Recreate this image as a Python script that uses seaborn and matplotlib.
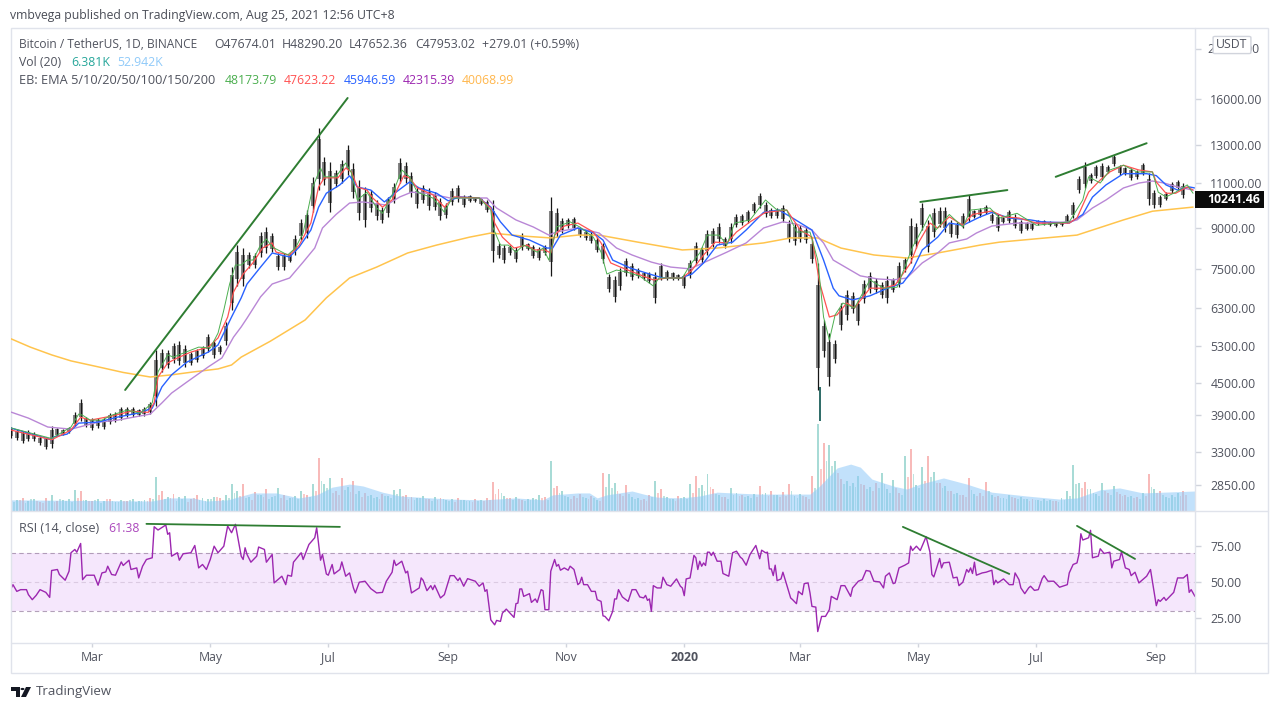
import numpy as np
import pandas as pd
import matplotlib
matplotlib.use("Agg")
import matplotlib.pyplot as plt
from matplotlib.lines import Line2D
from matplotlib.patches import Rectangle, FancyBboxPatch, Polygon, Circle
import seaborn as sns

# Daily bars, one kept every 3 days from the start date
start_date = "2019-01-18"
bar_step = 3
bar_high = [3690, 3660, 3630, 3645, 3610, 3550, 3535, 3710, 3680, 3660, 3695, 3945, 4190, 3860, 3845, 3845, 3845, 3930, 3945, 4040,
            4040, 4040, 4000, 4040, 4130, 5210, 5230, 5210, 5390, 5420, 5330, 5165, 5230, 5305, 5590, 5450, 5330, 5900, 7550, 8330,
            8220, 8070, 8040, 8830, 9030, 8790, 8040, 8040, 8040, 8710, 9360, 9740, 11300, 14070, 12360, 12050, 11650, 12180, 13050, 12020,
            11140, 10800, 10650, 10190, 9870, 10330, 10990, 12280, 12050, 11550, 10800, 10900, 10750, 10550, 10280, 10050, 10750, 10900, 10430, 10430,
            10330, 10280, 10190, 10190, 8410, 8330, 8330, 8260, 8790, 8410, 8330, 8260, 8330, 10330, 9830, 9400, 9400, 9450, 9030, 8910,
            8830, 8630, 8410, 7320, 7260, 7520, 7860, 7690, 7520, 7390, 7390, 7390, 7690, 7450, 7390, 7320, 7320, 7790, 8440, 8260,
            8910, 8990, 9190, 8630, 9190, 9550, 9550, 9740, 10100, 10500, 10100, 9830, 9830, 9960, 9320, 9190, 9100, 9030, 8520, 7690,
            5960, 5620, 5450, 6430, 6810, 6750, 6520, 7130, 7390, 7190, 7070, 7250, 7190, 7720, 7900, 9400, 9190, 10050, 9320, 9830,
            9870, 9870, 9320, 9240, 9600, 10430, 9740, 9830, 9960, 9600, 9550, 9450, 9740, 9550, 9320, 9240, 9190, 9320, 9320, 9280,
            9240, 9240, 9550, 10100, 11350, 12050, 11500, 11900, 12020, 11900, 12460, 11900, 11800, 11750, 11650, 12020, 11500, 10650, 10430, 10550,
            11040, 11140, 10990]
bar_low = [3520, 3490, 3445, 3475, 3475, 3410, 3350, 3365, 3550, 3565, 3595, 3710, 3795, 3695, 3645, 3680, 3660, 3750, 3775, 3810,
           3860, 3860, 3880, 3880, 3910, 4060, 4730, 4815, 4920, 4875, 4835, 4875, 4940, 5030, 5165, 5030, 5120, 5330, 6230, 6940,
           6940, 7520, 7520, 7900, 8040, 8070, 7450, 7450, 7720, 7970, 8520, 8600, 9640, 10650, 10900, 9650, 10800, 10990, 11410, 10300,
           9320, 9030, 9640, 9320, 9190, 9450, 10050, 10990, 10990, 10330, 9830, 10050, 9740, 9740, 9320, 9400, 9960, 10100, 9870, 10100,
           10100, 9960, 9640, 7720, 7860, 7690, 7970, 7720, 8150, 8150, 7860, 7790, 7970, 7250, 8630, 8790, 8990, 8910, 8630, 8520,
           8410, 8070, 7690, 6750, 6460, 6810, 7250, 7130, 7190, 7130, 7030, 6430, 7130, 7130, 7130, 7130, 6870, 7190, 7620, 7690,
           7970, 8260, 8410, 8220, 8410, 9030, 9100, 9190, 9600, 9830, 9450, 9400, 9400, 9240, 8440, 8330, 8440, 8410, 7690, 4360,
           5050, 4430, 4920, 5700, 5960, 6150, 5830, 6430, 6730, 6730, 6580, 6430, 6750, 6900, 7390, 7690, 8220, 8910, 8070, 8630,
           9030, 8830, 8630, 8600, 8990, 9240, 9400, 9450, 9550, 9190, 8870, 9190, 9190, 8990, 8790, 8910, 8910, 9100, 9100, 9070,
           9030, 9070, 9190, 9400, 10500, 10750, 10990, 11250, 11140, 11500, 11850, 11410, 11410, 11140, 11190, 11410, 9960, 9830, 9870, 10190,
           10500, 10650, 10280]
# the long candle at the March 2020 low
crash_day = [418]
crash_top = [4420]
crash_bottom = [3800]

# EMA lines, read as (day since start, price)
ema5_days = [0, 21, 31, 35, 37, 41, 47, 52, 60, 67, 73, 76, 81, 84, 89, 97, 103, 107, 110, 113, 116, 119, 122, 125, 129, 132, 135, 143, 147, 151, 156, 160, 162, 168, 173, 176, 179, 184, 189, 192, 197, 202, 206, 210, 218, 224, 228, 242, 248, 249, 253, 257, 261, 265, 272, 275, 278, 282, 289, 294, 301, 305, 308, 313, 318, 325, 332, 335, 347, 351, 356, 360, 366, 370, 374, 382, 390, 396, 401, 406, 413, 417, 420, 423, 426, 430, 436, 444, 451, 458, 466, 470, 475, 478, 485, 492, 496, 506, 511, 520, 530, 547, 554, 557, 563, 568, 575, 582, 590, 593, 597, 602, 608, 611]
ema5_vals = [3680, 3510, 3695, 3915, 3895, 3810, 3810, 3895, 3985, 3930, 4115, 4730, 5100, 5050, 5140, 5280, 5260, 5620, 6230, 7000, 7620, 7620, 7790, 7790, 8330, 8560, 8260, 7970, 8220, 8790, 10800, 11750, 11300, 11300, 12020, 11500, 10190, 10550, 9830, 9600, 10420, 11650, 11300, 10550, 10280, 9650, 10280, 10280, 9740, 9030, 8330, 8330, 8070, 8330, 8070, 8220, 7790, 9030, 9240, 9030, 8630, 8070, 7320, 7450, 7390, 7250, 6940, 7190, 7190, 7620, 8040, 8710, 8710, 8330, 9190, 9320, 10190, 9740, 9740, 8830, 8830, 7790, 6040, 5450, 6100, 6430, 6290, 7130, 6870, 6900, 8260, 8790, 9550, 8910, 9550, 9030, 9740, 9830, 9400, 9600, 9100, 9240, 10190, 11300, 10990, 11650, 11900, 11550, 11550, 10550, 10330, 10550, 10900, 10500]
ema10_days = [0, 21, 31, 36, 41, 52, 62, 71, 74, 76, 81, 86, 93, 102, 107, 112, 115, 120, 125, 130, 135, 137, 144, 149, 155, 159, 162, 169, 173, 176, 179, 184, 187, 192, 197, 203, 206, 210, 218, 224, 229, 242, 248, 250, 254, 260, 267, 270, 276, 279, 281, 286, 293, 301, 305, 310, 315, 324, 332, 339, 347, 352, 358, 364, 370, 375, 382, 390, 401, 408, 414, 418, 423, 427, 432, 436, 444, 451, 457, 465, 469, 475, 479, 485, 492, 497, 507, 513, 521, 530, 547, 551, 557, 563, 568, 575, 583, 590, 592, 597, 602, 608, 611]
ema10_vals = [3645, 3490, 3645, 3860, 3810, 3880, 3965, 3945, 4115, 4620, 4920, 5030, 5165, 5280, 5500, 6040, 6750, 7320, 7690, 8220, 8410, 8070, 7970, 8330, 9190, 10800, 11250, 11250, 11750, 11550, 10800, 10650, 10280, 9870, 10190, 11350, 11250, 10750, 10430, 9870, 10330, 10280, 9830, 9190, 8630, 8220, 8330, 8150, 8150, 8040, 8710, 9070, 9190, 8830, 8410, 7690, 7550, 7320, 7130, 7190, 7190, 7450, 7970, 8440, 8410, 8830, 9240, 9640, 9740, 8910, 8630, 7030, 6040, 6100, 6430, 6290, 6870, 6870, 6970, 7690, 8410, 9190, 8990, 9450, 9100, 9550, 9700, 9450, 9400, 9190, 9190, 9400, 10550, 11140, 11550, 11900, 11650, 11550, 11040, 10500, 10500, 10800, 10650]
ema20_days = [0, 21, 22, 29, 35, 45, 55, 66, 73, 78, 83, 91, 102, 107, 114, 119, 122, 129, 135, 144, 149, 155, 159, 163, 170, 175, 179, 186, 193, 199, 206, 211, 220, 226, 232, 242, 248, 253, 259, 268, 277, 280, 284, 293, 301, 306, 311, 320, 330, 337, 346, 352, 358, 365, 373, 380, 389, 397, 404, 414, 420, 425, 428, 435, 444, 453, 461, 466, 471, 479, 485, 492, 501, 507, 516, 527, 533, 547, 554, 559, 566, 575, 587, 592, 597, 603, 609, 612]
ema20_vals = [3677, 3490, 3535, 3580, 3760, 3777, 3862, 3933, 4020, 4420, 4665, 4940, 5165, 5330, 6040, 6580, 7000, 7550, 8040, 7900, 8260, 8910, 9870, 10500, 10900, 11350, 10800, 10650, 10100, 10550, 11040, 10750, 10500, 10150, 10330, 10280, 9870, 9240, 8710, 8520, 8220, 8220, 8710, 8990, 8800, 8520, 7790, 7520, 7320, 7190, 7190, 7320, 7690, 8330, 8440, 8910, 9640, 9740, 9400, 8910, 7790, 6870, 6640, 6520, 6640, 6870, 7030, 7450, 8150, 8630, 9190, 9100, 9450, 9640, 9400, 9320, 9240, 9190, 9550, 10320, 10900, 11460, 11460, 11360, 10900, 10650, 10800, 10750]
ema50_days = [0, 9, 19, 31, 45, 55, 72, 78, 83, 91, 102, 109, 115, 119, 122, 129, 135, 144, 151, 157, 161, 168, 175, 182, 194, 201, 207, 215, 227, 246, 251, 261, 270, 278, 282, 293, 304, 313, 321, 331, 341, 351, 361, 370, 380, 389, 399, 406, 414, 420, 425, 432, 439, 448, 456, 463, 471, 479, 485, 494, 499, 507, 520, 530, 547, 551, 559, 566, 575, 583, 590, 596, 603, 611]
ema50_vals = [3950, 3845, 3695, 3660, 3775, 3810, 3915, 4115, 4300, 4520, 4835, 5030, 5520, 5780, 6010, 6610, 7000, 7190, 7720, 8220, 8990, 9550, 10050, 10100, 9960, 10330, 10550, 10500, 10280, 10280, 9830, 9320, 9030, 8710, 8830, 8990, 8790, 8220, 7970, 7720, 7550, 7490, 7790, 8070, 8410, 8990, 9240, 9150, 8910, 8410, 7790, 7520, 7260, 7160, 7130, 7190, 7690, 8040, 8410, 8560, 8790, 9070, 9190, 9190, 9240, 9320, 9830, 10190, 10750, 10990, 11090, 10990, 10800, 10650]
ema200_days = [0, 10, 21, 31, 45, 58, 72, 83, 95, 107, 114, 119, 134, 152, 163, 175, 189, 205, 220, 237, 248, 265, 279, 293, 304, 324, 347, 365, 389, 403, 417, 429, 446, 463, 479, 501, 511, 551, 575, 590, 611]
ema200_vals = [5480, 5280, 5100, 4965, 4835, 4715, 4620, 4665, 4730, 4790, 4875, 5050, 5420, 5960, 6580, 7190, 7550, 8040, 8330, 8630, 8790, 8670, 8600, 8710, 8710, 8440, 8150, 8220, 8410, 8600, 8600, 8220, 7970, 7860, 8040, 8330, 8440, 8710, 9320, 9690, 9870]

# Volume in K, same step as the bars, u = up day, d = down day
vol_values = [31, 29, 34, 26, 31, 23, 34, 42, 26, 29, 31, 55, 52, 29, 26, 31, 26, 31, 23, 29,
              26, 31, 26, 29, 34, 88, 52, 36, 44, 36, 39, 31, 42, 34, 31, 36, 34, 42, 70, 52,
              70, 36, 49, 42, 57, 36, 60, 42, 34, 39, 52, 42, 70, 138, 70, 86, 52, 86, 62, 78,
              52, 47, 42, 36, 44, 39, 55, 57, 42, 36, 34, 39, 31, 36, 34, 29, 31, 34, 29, 26,
              31, 29, 34, 75, 57, 39, 34, 36, 29, 31, 34, 42, 36, 130, 65, 52, 36, 39, 44, 34,
              39, 29, 99, 96, 73, 44, 68, 36, 34, 31, 42, 78, 57, 36, 31, 39, 36, 70, 91, 68,
              96, 57, 42, 36, 60, 47, 42, 39, 44, 65, 47, 52, 42, 49, 70, 39, 44, 36, 91, 226,
              177, 172, 130, 83, 78, 73, 91, 68, 62, 73, 99, 57, 81, 47, 143, 161, 68, 114, 143, 101,
              73, 65, 52, 47, 42, 86, 44, 47, 75, 42, 39, 34, 42, 34, 36, 31, 31, 29, 31, 29,
              26, 34, 52, 120, 73, 75, 57, 44, 73, 47, 65, 44, 42, 39, 36, 47, 96, 57, 52, 36,
              42, 47, 52]
vol_dirs = ("duduuddudu" "uududuuduu" "duuudududu" "udduuuduuu" "dududuuduu" "ududuuddud" "uduuduuudd"
            "uududuuduu" "dudddududu" "uududuuddu" "duduudduud" "duduuduudu" "ududuuduud" "ududduuddu"
            "duuduuudud" "uuududuudu" "dududduddu" "duuduuduuu" "duuuuduuud" "uddudududu" "uud")
# the smaller bars lying between those above
vol_between = [24, 28, 22, 30, 26, 20, 27, 24, 31, 26, 23, 34, 29, 25, 28, 22, 30, 27, 24, 26, 29, 23, 27, 25, 30,
               42, 30, 34, 26, 31, 24, 33, 28, 26, 31, 37, 29, 35, 46, 38, 33, 28, 42, 36, 31, 40, 34, 28, 33, 30,
               44, 36, 52, 78, 60, 48, 42, 54, 50, 44, 36, 40, 33, 30, 38, 34, 44, 40, 31, 28, 33, 30, 26, 29, 31,
               26, 24, 29, 27, 23, 26, 25, 28, 44, 46, 33, 29, 31, 26, 28, 30, 33, 28, 60, 48, 39, 31, 35, 36, 30,
               33, 27, 62, 60, 52, 38, 44, 31, 29, 27, 36, 46, 40, 31, 27, 34, 31, 48, 60, 52, 62, 44, 36, 31, 42,
               38, 36, 33, 36, 44, 40, 42, 36, 40, 52, 33, 38, 31, 60, 110, 130, 118, 100, 70, 66, 62, 70, 56, 52, 60,
               70, 48, 60, 42, 88, 96, 60, 78, 88, 72, 60, 52, 44, 42, 36, 55, 39, 40, 52, 36, 33, 31, 36, 30, 31,
               27, 28, 26, 27, 26, 24, 29, 40, 70, 60, 58, 46, 39, 52, 42, 50, 38, 36, 34, 32, 40, 62, 48, 42, 33,
               36, 40, 42]
vol_ma_days = [0, 73, 81, 94, 101, 112, 125, 137, 149, 158, 166, 175, 182, 192, 201, 211, 227, 244, 261, 275, 280, 293, 299, 303, 308, 321, 327, 334, 346, 356, 365, 373, 387, 413, 418, 427, 434, 439, 445, 456, 463, 470, 482, 494, 507, 525, 542, 551, 563, 573, 585, 612]
vol_ma_vals = [29, 26, 34, 34, 26, 29, 47, 47, 34, 42, 62, 70, 65, 49, 39, 36, 31, 29, 34, 29, 42, 47, 47, 34, 42, 52, 44, 36, 34, 39, 49, 47, 44, 44, 65, 112, 122, 114, 83, 65, 57, 70, 86, 70, 49, 39, 31, 34, 55, 60, 47, 52]

# RSI (14, close)
rsi_days = [0, 1, 3, 5, 8, 9, 11, 13, 15, 18, 20, 21, 24, 25, 28, 30, 31, 33, 34, 36, 37, 39, 43, 45, 47, 49, 50, 52, 54, 57, 58, 61, 62, 65, 66, 68, 70, 73, 74, 76, 80, 81, 82, 83, 86, 87, 89, 93, 95, 97, 99, 101, 103, 105, 107, 110, 112, 114, 116, 119, 120, 121, 122, 124, 127, 128, 131, 132, 135, 136, 140, 142, 143, 145, 146, 150, 151, 154, 157, 158, 160, 161, 163, 164, 166, 167, 170, 171, 173, 175, 177, 178, 180, 183, 186, 189, 192, 194, 197, 198, 199, 202, 204, 205, 207, 211,
            212, 213, 215, 217, 218, 219, 222, 224, 227, 229, 231, 232, 234, 236, 240, 242, 244, 245, 246, 248, 250, 251, 253, 254, 256, 260, 261, 262, 263, 264, 265, 268, 269, 271, 272, 274, 275, 276, 278, 279, 281, 282, 283, 284, 286, 288, 289, 291, 293, 294, 295, 296, 298, 300, 302, 303, 305, 306, 307, 309, 311, 312, 313, 314, 316, 319, 321, 323, 325, 327, 328, 329, 330, 331, 332, 334, 336, 337, 339, 341, 344, 346, 347, 348, 349, 351, 353, 354, 355, 356, 357, 358, 359, 360, 361, 362, 363, 365, 367, 368, 371, 373, 375, 377, 378, 380, 382, 385, 387, 388, 390, 391, 392, 393, 394, 395, 396, 398, 399, 403, 404, 406,
            407, 409, 410, 412, 413, 414, 416, 417, 419, 421, 423, 424, 427, 429, 431, 434, 435, 438, 440, 442, 444, 446, 449, 451, 452, 454, 456, 457, 459, 462, 464, 465, 466, 468, 470, 473, 475, 476, 477, 480, 481, 482, 485, 487, 489, 490, 492, 494, 495, 496, 497, 498, 499, 502, 504, 507, 508, 509, 510, 513, 516, 518, 519, 521, 522, 524, 526, 527, 529, 531, 533, 534, 536, 539, 542, 546, 547, 549, 551, 552, 553, 554, 557, 558, 559, 562, 563, 565, 568, 569, 570, 573, 574, 576, 578, 579, 581, 583, 585, 587, 589, 592, 593, 594, 596, 597, 601, 603, 606, 608, 609, 610, 612]
rsi_vals = [45.3, 48.1, 43.4, 44.6, 44.6, 41.1, 37.6, 40.6, 44.6, 42.7, 39.2, 58, 58.7, 55.2, 51.2, 57.5, 70.4, 72.7, 70.8, 76.9, 51.6, 54.7, 54.7, 47.7, 56.3, 57, 61, 55.2, 54.7, 64, 61.5, 65.2, 58.7, 59.8, 52.8, 61, 65.7, 66.9, 88.6, 86.3, 89.8, 83.3, 84.4, 68, 70.4, 65.2, 69.7, 70.4, 75.5, 59.8, 62.2, 58.7, 65.7, 75, 70.4, 75, 89.1, 84.4, 90.3, 68, 65.7, 73.9, 69.2, 63.8, 68, 74.4, 72.7, 63.8, 69.2, 49.3, 54, 48.1, 54.7, 54, 63.8, 70.4, 65.7, 76.2, 80.9, 87.9, 65.2, 69.2, 55.6, 54.7, 62.2, 55.6, 58.7, 64, 54, 56.3, 45.8, 42.3, 49.8, 50.5, 45.3, 42.3, 42.7, 50.5, 56.8, 65.2, 61.5, 64.5, 56.3, 57.5, 42.3, 45.8,
            52.8, 51.2, 43.9, 47.4, 44.6, 47.7, 38.8, 41.1, 54.4, 54.4, 50.9, 52.8, 47, 52.3, 50.5, 47, 49.3, 43.4, 44.6, 23.5, 20, 23.1, 22.4, 28.2, 31, 25.2, 34.8, 35.2, 45.1, 45.1, 39.9, 41.8, 35.7, 38.1, 35.7, 44.6, 43.9, 30.6, 30.6, 57.5, 65.7, 61, 62.2, 58.2, 59.8, 58.2, 61, 58.7, 48.1, 49.3, 53.3, 48.1, 48.1, 43.4, 43.4, 37.6, 36.4, 26.3, 25.9, 22.8, 29.4, 38.1, 38.1, 44.6, 39.5, 36.4, 44.6, 44.6, 39.5, 38.8, 40.6, 37.1, 38.1, 29.4, 47.4, 45.8, 45.8, 53.3, 48.1, 47, 52.1, 47, 45.8, 40.4, 52.1, 52.8, 68.5, 66.9, 58.7, 64.5, 61, 63.3, 61.5, 70.8, 70.8, 68.5, 70.8, 64.5, 64.5, 55.9, 54, 70.4, 71.5, 67.3, 66.2, 61.7, 69.2, 75.5, 66.2, 72.2, 70.4, 70.8, 59.1, 59.1, 54.4, 61.7, 50.9, 52.1, 56.8, 38.8, 37.6, 34.8,
            43.4, 41.1, 48.8, 49.3, 42.3, 32.9, 32.4, 15.3, 25.9, 25.9, 30.6, 39.9, 37.6, 47.4, 47.4, 39.9, 45.8, 50.5, 51.6, 58, 57.5, 50.5, 50, 45.8, 54, 56.3, 48.8, 49.3, 59.8, 61.7, 63.3, 75, 72, 75, 72, 81.6, 70.8, 55.2, 53.5, 66.4, 59.8, 63.3, 63.8, 52.8, 53.3, 47.4, 49.8, 58.7, 56.8, 59.8, 55.9, 63.8, 54.7, 56.3, 56.8, 58.2, 48.1, 51.2, 49.3, 52.1, 48.1, 48.1, 56.3, 51.6, 45.8, 41.8, 45.8, 47, 44.1, 44.6, 52.3, 54.4, 50.5, 50.5, 46.3, 48.1, 56.3, 62.2, 63.3, 69.2, 83.7, 79.3, 80.9, 86.1, 66.9, 68, 73.2, 69.9, 70.8, 59.8, 64.5, 65.7, 71.1, 59.8, 58.7, 54.4, 56.8, 49.3, 51.6, 54, 58.7, 33.4, 37.6, 36.4, 39.2, 37.1, 42.7, 52.8, 52.8, 55.2, 42.7, 44.6, 39.9]

# Hand drawn trend lines
price_trends = [([59, 174], [4360, 16070]), ([470, 515], [10100, 10650]), ([540, 587], [11300, 13130])]
rsi_trends = [([70, 170], [90.6, 88.5]), ([461, 516], [88.5, 55.6]), ([551, 581], [89.2, 66.1])]

price_ticks = [20000, 16000, 13000, 11000, 9000, 7500, 6300, 5300, 4500, 3900, 3300, 2850]
rsi_ticks = [75, 50, 25]
month_dates = ["2019-03-01", "2019-05-01", "2019-07-01", "2019-09-01", "2019-11-01", "2020-01-01", "2020-03-01", "2020-05-01", "2020-07-01", "2020-09-01"]
month_labels = ["Mar", "May", "Jul", "Sep", "Nov", "2020", "Mar", "May", "Jul", "Sep"]
last_price = 10241.46

W, H = 1280, 711
TEXT = "#50535e"
BORDER = "#e0e3eb"

sns.set_theme(style="white")
plt.rcParams["font.family"] = ["Open Sans", "DejaVu Sans"]


def to_dates(days):
    return pd.Timestamp(start_date) + pd.to_timedelta(days, unit="D")


def pane(left, top, right, bottom):
    return [left / W, 1 - bottom / H, (right - left) / W, (bottom - top) / H]


def ftext(x, y, s, color=TEXT, size=8.8, **kw):
    fig.text(x / W, 1 - y / H, s, color=color, fontsize=size, va="center", **kw)


def fline(x0, y0, x1, y1, color=BORDER):
    fig.add_artist(Line2D([x0 / W, x1 / W], [1 - y0 / H, 1 - y1 / H], color=color, lw=1, transform=fig.transFigure))


fig = plt.figure(figsize=(W / 100, H / 100), dpi=100, facecolor="white")
ax = fig.add_axes(pane(11, 28, 1195, 511))
vol_ax = ax.twinx()
rsi_ax = fig.add_axes(pane(11, 511, 1195, 643))

xlim = (to_dates(0), to_dates(612))

# ------------------------------
# Volume
bar_dates = to_dates(np.arange(len(bar_high)) * bar_step)
between_dates = to_dates(np.arange(len(vol_between)) * bar_step + 1.5)
vol_colors = ["#26a69a" if c == "u" else "#ef5350" for c in vol_dirs]
between_colors = vol_colors[1:] + vol_colors[:1]
vol_ax.bar(between_dates, vol_between, width=0.9, color=between_colors, alpha=0.3, linewidth=0)
vol_ax.bar(bar_dates, vol_values, width=1.0, color=vol_colors, alpha=0.4, linewidth=0)
vol_ax.fill_between(to_dates(vol_ma_days), vol_ma_vals, 0, color="#90caf9", alpha=0.55, linewidth=0)
vol_ax.set_ylim(0, 1256)
vol_ax.axis("off")

# ------------------------------
# Price bars and EMAs
ax.set_zorder(vol_ax.get_zorder() + 1)
ax.patch.set_visible(False)
# gray core over the middle of each bar, thin dark wick over the full range
bar_mid = np.sqrt(np.array(bar_high) * np.array(bar_low))
core_high = bar_mid * (np.array(bar_high) / bar_mid) ** 0.65
core_low = bar_mid * (np.array(bar_low) / bar_mid) ** 0.65
ax.vlines(bar_dates, core_low, core_high, color="#858585", lw=2.9, zorder=2)
ax.vlines(bar_dates, bar_low, bar_high, color="#161616", lw=0.9, zorder=2.5)
ax.vlines(to_dates(crash_day), crash_bottom, crash_top, color="#1d5f5a", lw=1.3, zorder=2.5)

ema_lines = [(ema200_days, ema200_vals, "#ffc44d", 1.1), (ema50_days, ema50_vals, "#b987d6", 1.0),
             (ema20_days, ema20_vals, "#2962ff", 1.0), (ema10_days, ema10_vals, "#ff5252", 0.9),
             (ema5_days, ema5_vals, "#4caf50", 0.7)]
for days, vals, color, lw in ema_lines:
    line_df = pd.DataFrame({"date": to_dates(days), "value": vals})
    sns.lineplot(data=line_df, x="date", y="value", ax=ax, color=color, lw=lw, estimator=None, legend=False, zorder=3)

for days, vals in price_trends:
    ax.plot(to_dates(days), vals, color="#2e7d32", lw=1.4, zorder=4)

ax.set_yscale("log")
ax.set_ylim(2539, 21970)
ax.set_xlim(*xlim)
ax.set_xlabel("")
ax.set_ylabel("")
ax.set_xticks([])
ax.yaxis.tick_right()
ax.set_yticks(price_ticks)
# top label goes under the USDT button, drawn further down
ax.set_yticklabels(["" if t == 20000 else f"{t:.2f}" for t in price_ticks])
ax.minorticks_off()
ax.tick_params(axis="y", length=4, width=1, color="#d1d4dc", labelsize=8.8, labelcolor=TEXT, pad=7, right=True, left=False)
for s in ax.spines.values():
    s.set_visible(False)

# ------------------------------
# RSI pane
rsi_ax.axhspan(30, 70, color="#f5e7fc", lw=0, zorder=0)
for level, a in [(70, 0.8), (50, 0.3), (30, 0.8)]:
    rsi_ax.axhline(level, color="#a08aa8", lw=0.8, ls=(0, (4, 3)), alpha=a, zorder=1)
rsi_df = pd.DataFrame({"date": to_dates(rsi_days), "rsi": rsi_vals})
sns.lineplot(data=rsi_df, x="date", y="rsi", ax=rsi_ax, color="#9c27b0", lw=1.0, estimator=None, legend=False, zorder=3)
for days, vals in rsi_trends:
    rsi_ax.plot(to_dates(days), vals, color="#2e7d32", lw=1.3, zorder=4)

rsi_ax.set_xlim(*xlim)
rsi_ax.set_ylim(7.3, 99.6)
rsi_ax.set_xlabel("")
rsi_ax.set_ylabel("")
rsi_ax.yaxis.tick_right()
rsi_ax.set_yticks(rsi_ticks)
rsi_ax.set_yticklabels([f"{t:.2f}" for t in rsi_ticks])
rsi_ax.set_xticks(pd.to_datetime(month_dates))
rsi_ax.set_xticklabels(month_labels)
rsi_ax.get_xticklabels()[5].set_fontweight("bold")
rsi_ax.tick_params(axis="y", length=4, width=1, color="#d1d4dc", labelsize=8.8, labelcolor=TEXT, pad=7, right=True, left=False)
rsi_ax.tick_params(axis="x", length=3, width=1, color="#d1d4dc", labelsize=8.8, labelcolor=TEXT, pad=3, bottom=True)
for s in rsi_ax.spines.values():
    s.set_visible(False)

# ------------------------------
# Frame and separators
fig.add_artist(Rectangle((11 / W, 1 - 673 / H), 1257 / W, 645 / H, fill=False, edgecolor=BORDER, lw=1, transform=fig.transFigure))
fline(11, 511, 1268, 511)
fline(11, 643, 1268, 643)
fline(1195, 28, 1195, 673)

# ------------------------------
# Header and legend text
ftext(10, 15, "vmbvega published on TradingView.com, Aug 25, 2021 12:56 UTC+8", color="#4a4d57")
ftext(19, 45, "Bitcoin / TetherUS, 1D, BINANCE", size=8.6)
for x, s in [(214, "O47674.01"), (282, "H48290.20"), (349, "L47652.36"), (415, "C47953.02"), (482, "+279.01 (+0.59%)")]:
    ftext(x, 45, s)
ftext(19, 63, "Vol (20)")
ftext(71, 63, "6.381K", color="#26a69a")
ftext(117, 63, "52.942K", color="#90caf9")
ftext(19, 81, "EB: EMA 5/10/20/50/100/150/200", size=9.2)
for x, s, c in [(225, "48173.79", "#4caf50"), (284, "47623.22", "#ff5252"), (344, "45946.59", "#2962ff"),
                (403, "42315.39", "#9c27b0"), (462, "40068.99", "#ffb74d")]:
    ftext(x, 81, s, color=c)
ftext(19, 528, "RSI (14, close)", size=9.1)
ftext(108, 528, "61.38", color="#ab47bc")

# USDT button sits on the 20000 label, last price tag
fig.text(1207 / W, 1 - 49.5 / H, f"{price_ticks[0]:.2f}", color=TEXT, fontsize=8.8, va="center", zorder=4)
fig.add_artist(FancyBboxPatch((1215 / W, 1 - 52.5 / H), 34 / W, 15 / H, boxstyle="round,pad=0.0015", facecolor="white",
                              edgecolor="#d1d4dc", lw=1, transform=fig.transFigure, zorder=5))
fig.text(1232 / W, 1 - 45 / H, "USDT", color=TEXT, fontsize=8.8, ha="center", va="center", zorder=6)
fig.add_artist(Rectangle((1195 / W, 1 - 208 / H), 69 / W, 17 / H, facecolor="#0b0b0b", edgecolor="none", transform=fig.transFigure, zorder=5))
fig.text(1207 / W, 1 - 199.5 / H, f"{last_price:.2f}", color="white", fontsize=8.8, fontweight="bold", va="center", zorder=6)

# TradingView logo
logo = "#131722"
fig.add_artist(Polygon([(11 / W, 1 - 687 / H), (20 / W, 1 - 687 / H), (20 / W, 1 - 697 / H), (16 / W, 1 - 697 / H),
                        (16 / W, 1 - 691 / H), (11 / W, 1 - 691 / H)], facecolor=logo, edgecolor="none", transform=fig.transFigure))
fig.add_artist(Polygon([(26 / W, 1 - 687 / H), (31 / W, 1 - 687 / H), (26 / W, 1 - 697 / H), (21 / W, 1 - 697 / H)],
                       facecolor=logo, edgecolor="none", transform=fig.transFigure))
fig.add_artist(Circle((22.5 / W, 1 - 689 / H), 2 / W, facecolor=logo, edgecolor="none", transform=fig.transFigure))
ftext(36, 692, "TradingView", color=TEXT, size=9.5)

fig.savefig("out.png", dpi=100)
